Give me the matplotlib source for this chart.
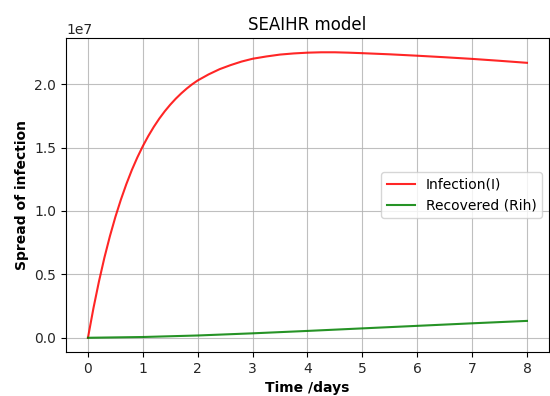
import matplotlib
matplotlib.use("Agg")
import matplotlib.pyplot as plt

# Infected population I(t) over time (days)
t_inf = [0.0, 0.1, 0.2, 0.3, 0.4, 0.5, 0.6, 0.7, 0.8, 0.9, 1.0,
         1.1, 1.2, 1.3, 1.4, 1.5, 1.6, 1.7, 1.8, 1.9, 2.0,
         2.2, 2.4, 2.6, 2.8, 3.0, 3.25, 3.5, 3.75, 4.0, 4.25, 4.5, 4.75,
         5.0, 5.5, 6.0, 6.5, 7.0, 7.5, 8.0]
infected = [0.0, 0.233e7, 0.443e7, 0.632e7, 0.801e7, 0.953e7, 1.089e7,
            1.212e7, 1.323e7, 1.422e7, 1.511e7,
            1.591e7, 1.663e7, 1.728e7, 1.786e7, 1.838e7, 1.885e7, 1.927e7,
            1.965e7, 1.999e7, 2.029e7,
            2.077e7, 2.118e7, 2.150e7, 2.178e7, 2.200e7, 2.218e7, 2.233e7,
            2.242e7, 2.248e7, 2.251e7, 2.251e7, 2.248e7,
            2.244e7, 2.235e7, 2.224e7, 2.212e7, 2.199e7, 2.184e7, 2.168e7]

# Recovered population Rih(t)
t_rec = [0, 1, 2, 3, 4, 5, 6, 7, 8]
recovered = [0.0, 0.006e7, 0.018e7, 0.035e7, 0.054e7, 0.074e7, 0.094e7,
             0.114e7, 0.133e7]

fig = plt.figure(figsize=(5.5, 3.96), dpi=100)
ax = fig.add_axes([0.12, 0.111, 0.878, 0.793])

ax.plot(t_inf, infected, color="red", lw=1.5, alpha=0.85, label="Infection(I)")
ax.plot(t_rec, recovered, color="green", lw=1.5, alpha=0.85, label="Recovered (Rih)")

ax.set_title("SEAIHR model")
ax.set_xlabel("Time /days", fontweight="bold")
ax.set_ylabel("Spread of infection", fontweight="bold")
ax.tick_params(labelcolor="#262626")
ax.grid(True, color="#b0b0b0", lw=0.8, alpha=0.8)
ax.legend(loc="center right")

fig.savefig("out.png", dpi=100)
